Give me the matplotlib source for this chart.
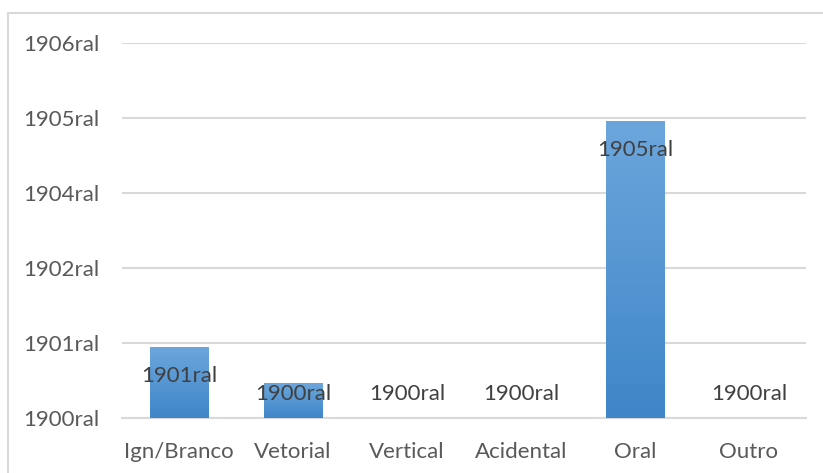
import matplotlib.pyplot as plt
import numpy as np
from matplotlib.colors import LinearSegmentedColormap
from matplotlib.lines import Line2D

categories = ['Ign/Branco', 'Vetorial', 'Vertical', 'Acidental', 'Oral', 'Outro']
values = [473, 233, 0, 0, 1980, 0]
bar_labels = ['1901ral', '1900ral', '1900ral', '1900ral', '1905ral', '1900ral']
y_ticks = [0, 500, 1000, 1500, 2000, 2500]
y_tick_labels = ['1900ral', '1901ral', '1902ral', '1904ral', '1905ral', '1906ral']

plt.rcParams['font.family'] = ['Lato', 'DejaVu Sans']

fig = plt.figure(figsize=(8.23, 4.73), dpi=100)
ax = fig.add_axes([0.1482, 0.1163, 0.8311, 0.7928])

x = np.arange(len(categories))
bars = ax.bar(x, values, width=0.51, color='none', zorder=3)

# vertical gradient fill, like the excel bars
grad = LinearSegmentedColormap.from_list('g', ['#3f86c8', '#6ca6dc'])
for b in bars:
    if b.get_height() <= 0:
        continue
    x0, w, h = b.get_x(), b.get_width(), b.get_height()
    img = ax.imshow(np.linspace(0, 1, 256).reshape(-1, 1), cmap=grad,
                    extent=[x0, x0 + w, 0, h], origin='lower',
                    aspect='auto', zorder=3)
    img.set_clip_path(b)

for xi, v, lab in zip(x, values, bar_labels):
    ypos = max(v - 193, 160)
    ax.text(xi, ypos, lab, ha='center', va='center', fontsize=16,
            color='#404040', zorder=5)

ax.set_xlim(-0.5, len(categories) - 0.5)
ax.set_ylim(0, 2500)
ax.set_yticks(y_ticks)
ax.set_yticklabels(y_tick_labels)
ax.set_xticks(x)
ax.set_xticklabels(categories)
ax.tick_params(axis='both', length=0, labelsize=16, labelcolor='#595959')
ax.tick_params(axis='y', pad=16)
ax.tick_params(axis='x', pad=17)

ax.yaxis.grid(True, color='#d9d9d9', linewidth=1.5, zorder=0)
ax.set_axisbelow(True)
for s in ['top', 'right', 'left']:
    ax.spines[s].set_visible(False)
ax.spines['bottom'].set_color('#d9d9d9')
ax.spines['bottom'].set_linewidth(1.5)

# chart area border
fig.add_artist(Line2D([8 / 823, 8 / 823], [0, 1 - 13 / 473],
                      transform=fig.transFigure, color='#d9d9d9', lw=1.5))
fig.add_artist(Line2D([8 / 823, 1], [1 - 13 / 473, 1 - 13 / 473],
                      transform=fig.transFigure, color='#d9d9d9', lw=1.5))

fig.savefig('out.png', dpi=100)
